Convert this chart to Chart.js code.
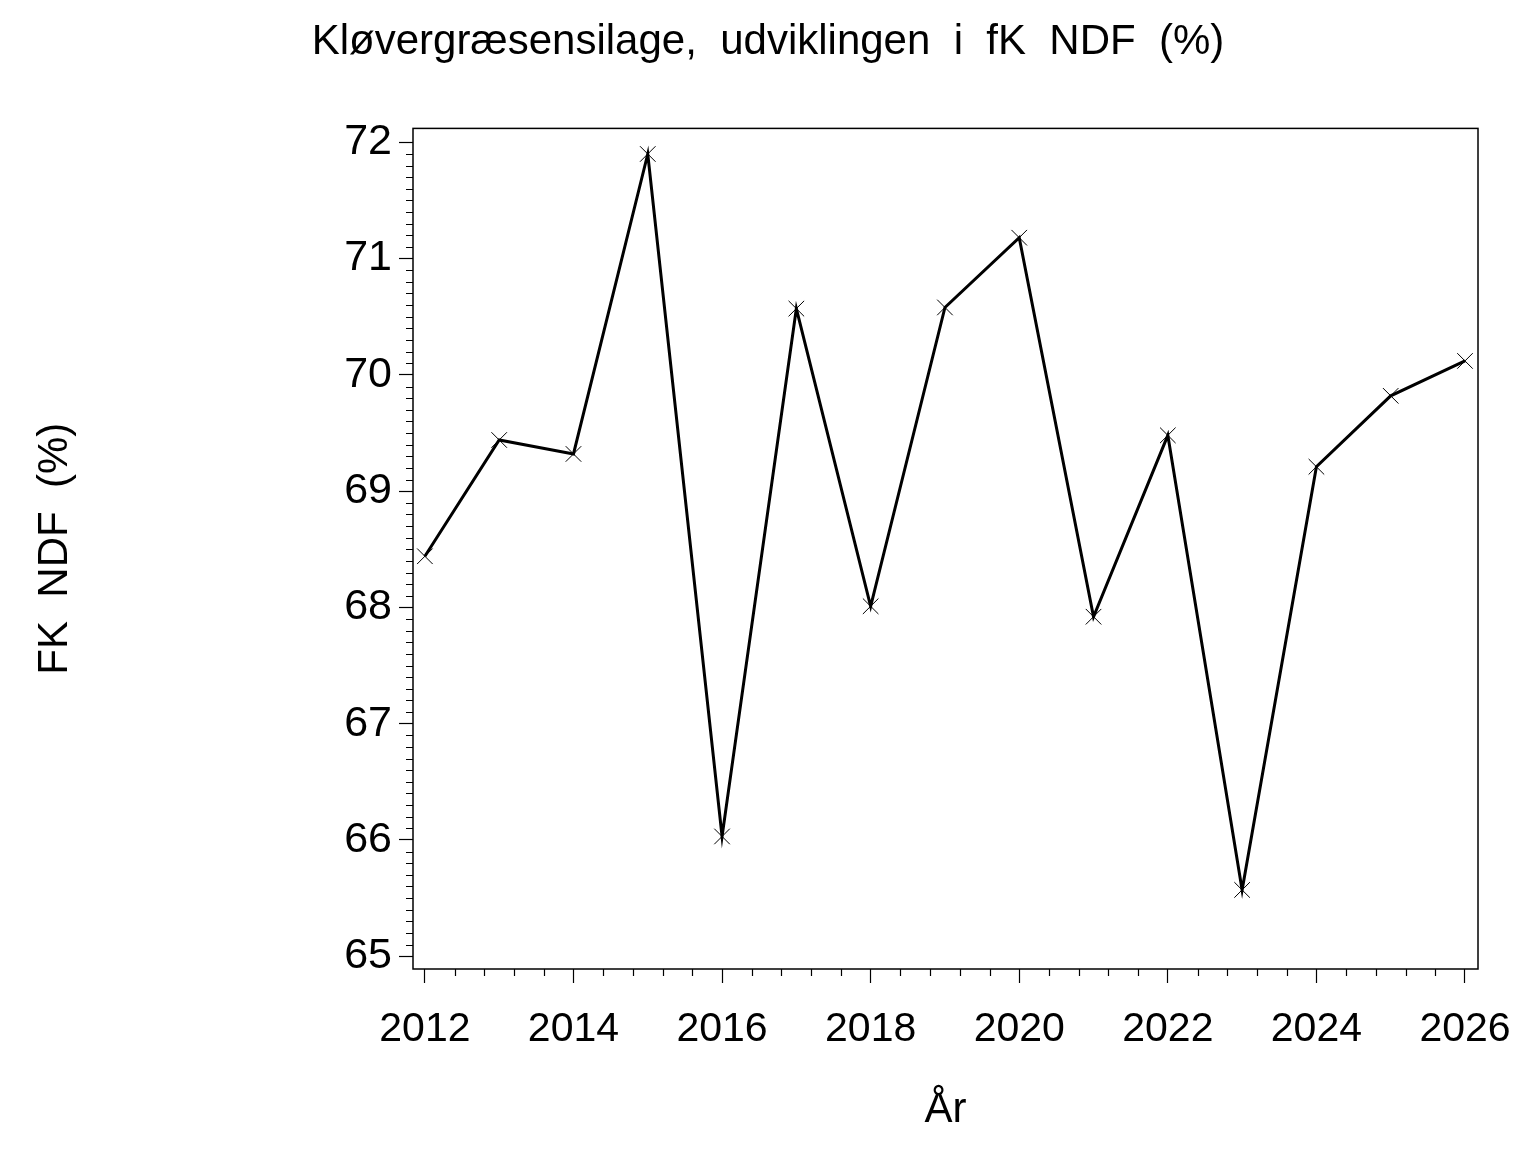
<!DOCTYPE html>
<html>
<head>
<meta charset="utf-8">
<script src="https://cdn.jsdelivr.net/npm/chart.js"></script>
<style>
  html, body { margin: 0; padding: 0; background: #fff; }
  #wrap { width: 1536px; height: 1152px; }
</style>
</head>
<body>
<div id="wrap"><canvas id="chart" width="1536" height="1152"></canvas></div>
<script>
// data
const years = [2012, 2013, 2014, 2015, 2016, 2017, 2018, 2019, 2020, 2021, 2022, 2023, 2024, 2025, 2026];
const ndfValues = [68.44, 69.44, 69.32, 71.90, 66.03, 70.57, 68.01, 70.58, 71.18, 67.92, 69.48, 65.57, 69.21, 69.82, 70.12];
const xTickLabels = [2012, 2014, 2016, 2018, 2020, 2022, 2024, 2026];
const yTickLabels = [65, 66, 67, 68, 69, 70, 71, 72];

const FONT = '"Liberation Sans", Arial, sans-serif';

// minor ticks + full frame round the plot
const frameAndMinorTicks = {
    id: 'frameAndMinorTicks',
    afterDraw(chart) {
        const ctx = chart.ctx;
        const a = chart.chartArea;
        const x = chart.scales.x;
        const y = chart.scales.y;
        ctx.save();
        ctx.strokeStyle = '#000';
        ctx.lineWidth = 1.5;
        ctx.strokeRect(a.left, a.top, a.right - a.left, a.bottom - a.top);

        ctx.lineWidth = 1.2;
        ctx.beginPath();
        for (let i = 0; i <= 35; i++) {
            if (i % 5 === 0) continue;
            const px = Math.round(x.getPixelForValue(2012 + i * 0.4)) + 0.5;
            ctx.moveTo(px, a.bottom);
            ctx.lineTo(px, a.bottom + 7);
        }
        for (let i = 0; i <= 70; i++) {
            if (i % 10 === 0) continue;
            const py = Math.round(y.getPixelForValue(65 + i * 0.1)) + 0.5;
            ctx.moveTo(a.left, py);
            ctx.lineTo(a.left - 7, py);
        }
        ctx.stroke();
        ctx.restore();
    }
};

new Chart(document.getElementById('chart'), {
    type: 'line',
    data: {
        datasets: [{
            data: years.map((yr, i) => ({ x: yr, y: ndfValues[i] })),
            borderColor: '#000',
            borderWidth: 3,
            tension: 0,
            pointStyle: 'crossRot',
            pointRadius: 11,
            pointBorderWidth: 1,
            pointBorderColor: '#000',
            pointBackgroundColor: '#000'
        }]
    },
    options: {
        responsive: false,
        animation: false,
        events: [],
        layout: { padding: 0 },
        plugins: {
            legend: { display: false },
            tooltip: { enabled: false },
            title: {
                display: true,
                text: 'Kløvergræsensilage,  udviklingen  i  fK  NDF  (%)',
                color: '#000',
                font: { family: FONT, size: 42, weight: 'normal', lineHeight: 1.2 },
                padding: { top: 17, bottom: 61 }
            }
        },
        scales: {
            x: {
                type: 'linear',
                min: 2011.84,
                max: 2026.175,
                afterBuildTicks: s => { s.ticks = xTickLabels.map(v => ({ value: v })); },
                afterFit: s => { s.height = 183; },
                grid: { drawOnChartArea: false, drawTicks: true, tickLength: 14, color: '#000', tickWidth: 1.2 },
                border: { display: false },
                ticks: {
                    color: '#000',
                    padding: 22,
                    maxRotation: 0,
                    font: { family: FONT, size: 41 },
                    callback: v => String(v)
                },
                title: {
                    display: true,
                    text: 'År',
                    color: '#000',
                    font: { family: FONT, size: 42, lineHeight: 1.2 },
                    padding: { top: 0, bottom: 16 }
                }
            },
            y: {
                type: 'linear',
                min: 64.89,
                max: 72.12,
                afterBuildTicks: s => { s.ticks = yTickLabels.map(v => ({ value: v })); },
                afterFit: s => { s.width = 413; },
                grid: { drawOnChartArea: false, drawTicks: true, tickLength: 14, color: '#000', tickWidth: 1.2 },
                border: { display: false },
                ticks: {
                    color: '#000',
                    padding: 7,
                    font: { family: FONT, size: 43 },
                    callback: v => String(v)
                },
                title: {
                    display: true,
                    text: 'FK  NDF  (%)',
                    color: '#000',
                    font: { family: FONT, size: 42, lineHeight: 1.2 },
                    padding: { top: 30, bottom: 0 }
                }
            },
            // empty right-hand strip so the title stays centred on the page
            yRight: {
                type: 'linear',
                position: 'right',
                display: true,
                grid: { display: false },
                border: { display: false },
                ticks: { display: false },
                afterFit: s => { s.width = 58; }
            }
        }
    },
    plugins: [frameAndMinorTicks]
});
</script>
</body>
</html>
